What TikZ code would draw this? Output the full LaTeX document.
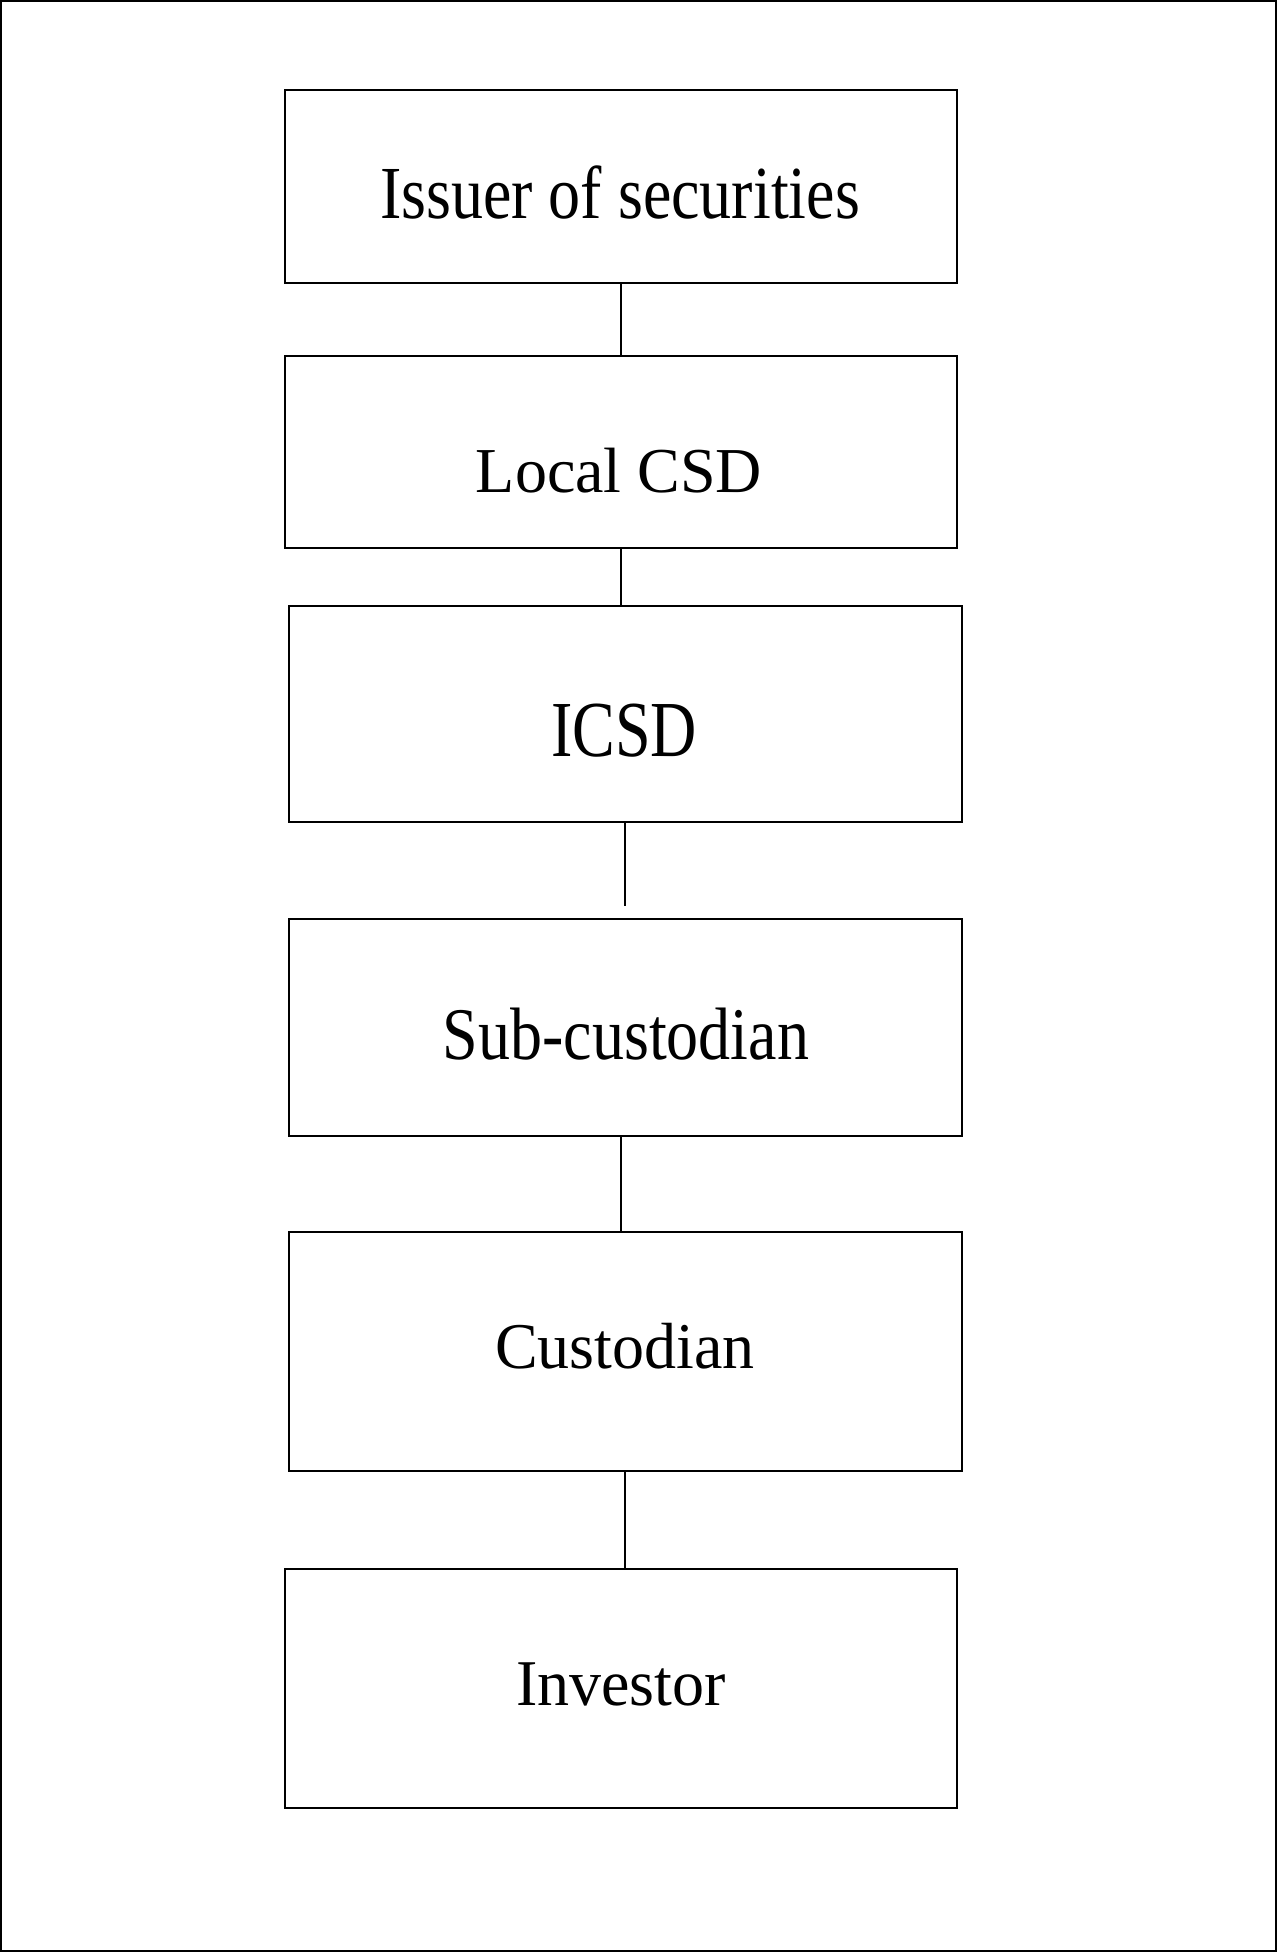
\documentclass[tikz,border=0pt]{standalone}
\usepackage{fontspec}
\setmainfont{Liberation Serif}
\begin{document}
\begin{tikzpicture}[x=1pt,y=-1pt,
  frame/.style={draw=black,line width=2pt},
  boxnode/.style={draw=black,line width=2pt,rectangle,inner sep=0pt,anchor=north west},
  link/.style={draw=black,line width=2pt},
  lbl/.style={anchor=base,inner sep=0pt,font=\fontsize{64}{70}\selectfont}]
\useasboundingbox (0,0) rectangle (1277,1953);
\draw[frame] (1,1) rectangle (1276,1951);
% boxes
\node[boxnode,minimum width=672pt,minimum height=193pt] (b1) at (284,89) {};
\node[boxnode,minimum width=672pt,minimum height=192pt] (b2) at (284,355) {};
\node[boxnode,minimum width=673pt,minimum height=216pt] (b3) at (288,605) {};
\node[boxnode,minimum width=673pt,minimum height=217pt] (b4) at (288,918) {};
\node[boxnode,minimum width=673pt,minimum height=239pt] (b5) at (288,1231) {};
\node[boxnode,minimum width=672pt,minimum height=239pt] (b6) at (284,1568) {};
% labels
\node[lbl] (t1) at (620,219) {\scalebox{1}[1.17]{Issuer of securities}};
\node[lbl] (t2) at (619,492) {Local CSD};
\node[lbl] (t3) at (624,756) {\scalebox{1}[1.24]{ICSD}};
\node[lbl] (t4) at (626,1059) {\scalebox{1}[1.16]{Sub-custodian}};
\node[lbl] (t5) at (625,1368) {\scalebox{1}[1.02]{Custodian}};
\node[lbl] (t6) at (621,1705) {\scalebox{1}[1.02]{Investor}};
% connectors
\coordinate (c3end) at (625,906);
\draw[link] (b1.south) -- (b2.north);
\draw[link] (b2.south) -- (b2.south |- b3.north);
\draw[link] (b3.south -| c3end) -- (c3end);
\draw[link] (b4.south -| b2.south) -- (b5.north -| b2.south);
\draw[link] (b5.south -| c3end) -- (b6.north -| c3end);
\end{tikzpicture}
\end{document}
